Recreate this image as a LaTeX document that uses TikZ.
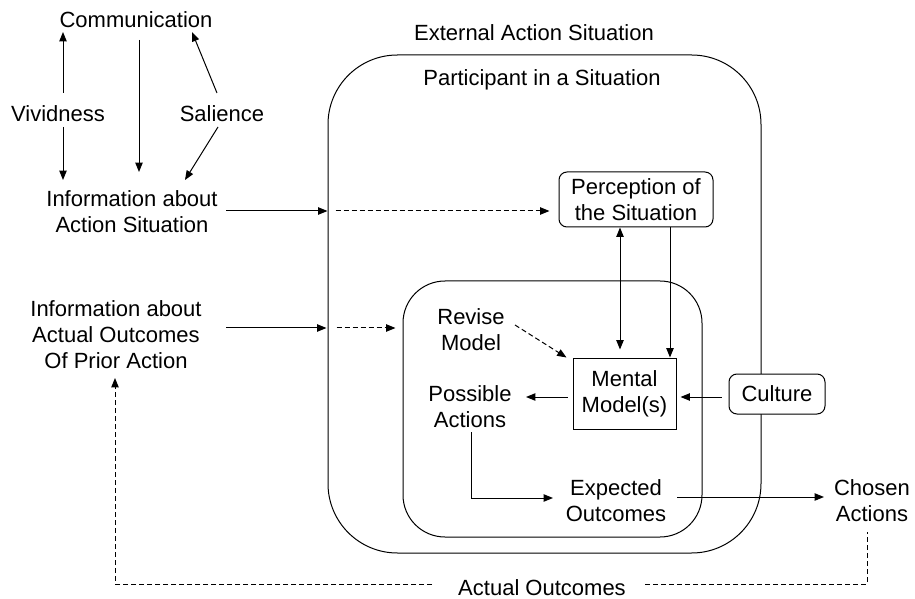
\documentclass[tikz,border=0pt]{standalone}
\usepackage{fontspec}
\setmainfont{Liberation Sans}
\usetikzlibrary{arrows.meta,calc}
\begin{document}
\begin{tikzpicture}[x=0.75pt,y=-0.75pt,
  lbl/.style={align=center,inner sep=0pt,font=\fontsize{16.5}{19.5}\selectfont},
  frame/.style={draw,line width=0.75pt},
  tip/.tip={Triangle[length=7pt,width=5.5pt]},
  arr/.style={line width=0.75pt,-tip},
  arrtwo/.style={line width=0.75pt,tip-tip},
  plain/.style={line width=0.75pt},
  dashedline/.style={dash pattern=on 3.75pt off 2.25pt}]
\useasboundingbox (0,0) rectangle (915,599);

% situation frames
\node[frame,rounded corners=52pt,minimum width=324.75pt,minimum height=373.5pt] (outer) at (544.5,304) {};
\node[frame,rounded corners=31.5pt,minimum width=224.25pt,minimum height=192pt] (inner) at (552.5,409) {};

% labels outside the frames
\node[lbl] (comm) at (136,20) {Communication};
\node[lbl] (viv) at (58,114) {Vividness};
\node[lbl] (sal) at (222,114) {Salience};
\node[lbl] (infoAS) at (132,212) {Information about\\Action Situation};
\node[lbl] (infoAO) at (116,335) {Information about\\Actual Outcomes\\Of Prior Action};
\node[lbl] (ext) at (534,33) {External Action Situation};
\node[lbl] (part) at (542,80) {Participant in a Situation};
\node[lbl] (chosen) at (872,501) {Chosen\\Actions};
\node[lbl] (actual) at (542,588) {Actual Outcomes};

% boxes and labels inside
\node[lbl,frame,rounded corners=6pt,minimum width=115.5pt,minimum height=41.25pt] (perc) at (636,199.5) {Perception of\\the Situation};
\node[lbl,frame,minimum width=77.25pt,minimum height=52.5pt] (mental) at (624.5,394) {Mental\\Model(s)};
\node[lbl,frame,fill=white,rounded corners=6pt,minimum width=72pt,minimum height=30pt] (culture) at (777,394) {Culture};
\node[lbl] (revise) at (471,330) {Revise\\Model};
\node[lbl] (possible) at (470,407) {Possible\\Actions};
\node[lbl] (expected) at (616,501) {Expected\\Outcomes};

% influences on information
\draw[arr] ($(viv)+(5,-21)$) -- ($(comm)+(-73,12)$);
\draw[arr] ($(viv)+(5,13)$) -- ($(infoAS)+(-69,-32)$);
\draw[arr] ($(comm)+(3,20)$) -- ($(infoAS)+(7,-40)$);
\draw[arr] ($(sal)+(-5,-21)$) -- ($(comm)+(56,12)$);
\draw[arr] ($(sal)+(-4,13)$) -- ($(infoAS)+(53,-32)$);

% information entering the situation
\draw[arr] ($(infoAS)+(94,-1)$) -- ($(infoAS-|outer.west)+(0,-1)$);
\draw[arr,dashedline] ($(infoAS-|outer.west)+(8,-1)$) -- ($(infoAS-|perc.west)+(-9,-1)$);
\draw[arr] ($(infoAO)+(110,-7)$) -- ($(infoAO-|outer.west)+(-1,-7)$);
\draw[arr,dashedline] ($(infoAO-|outer.west)+(9,-7)$) -- ($(infoAO-|inner.west)+(-7,-7)$);

% inside the participant
\draw[arrtwo] ($(perc.south)+(-16,0)$) -- ($(mental.north)+(-4.5,-9)$);
\draw[arr] ($(perc.south)+(34,0)$) -- ($(mental.north)+(45.5,-1)$);
\draw[arr,dashedline] ($(revise)+(44,-5)$) -- ($(mental.north west)+(-6,-1)$);
\draw[arr] ($(mental.west)+(-5,3)$) -- ($(possible)+(56,-10)$);
\draw[arr] ($(culture.west)+(-7,3)$) -- ($(mental.east)+(4,3)$);
\draw[arr] ($(possible)+(1,25)$) |- ($(expected)+(-63,-3)$);
\draw[arr] ($(expected)+(61,-4)$) -- ($(chosen)+(-48,-4)$);

% feedback of actual outcomes
\draw[arr,dashedline] ($(actual)+(-110,-4)$) -| ($(infoAO)+(-1,43)$);
\draw[plain,dashedline] ($(actual)+(103,-4)$) -| ($(chosen)+(-5,31)$);
\end{tikzpicture}
\end{document}
